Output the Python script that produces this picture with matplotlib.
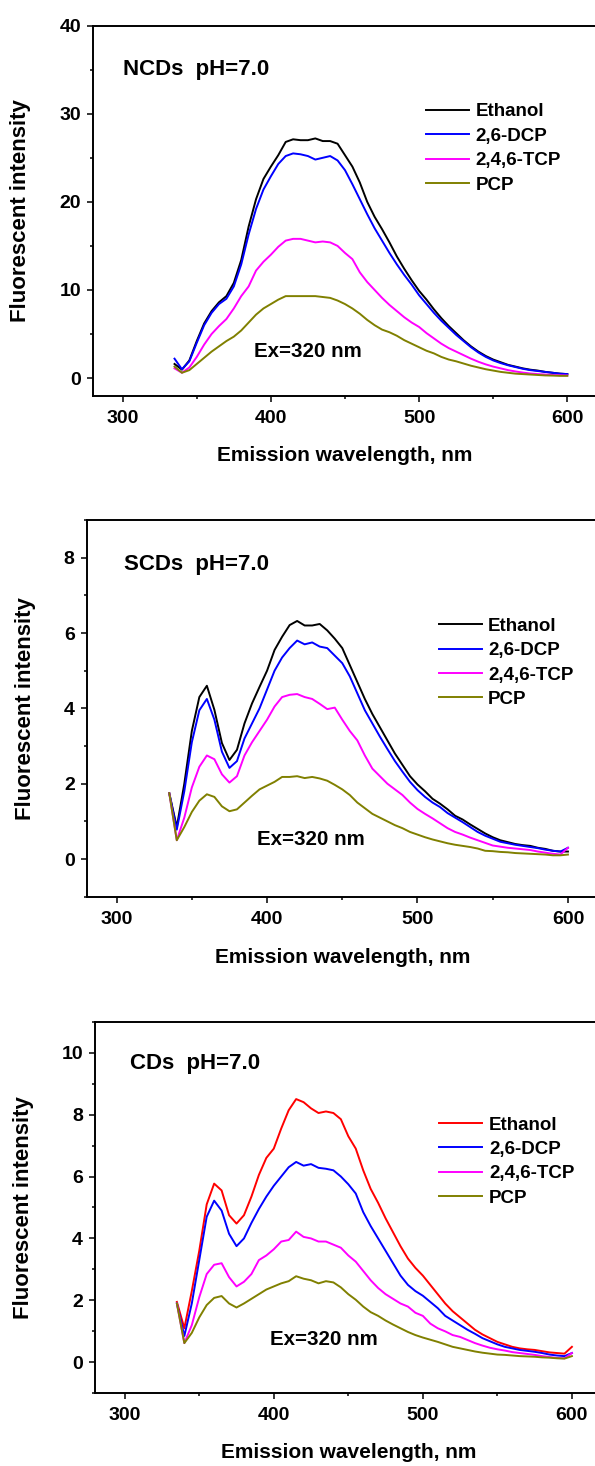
import numpy as np
import matplotlib
matplotlib.use("Agg")
import matplotlib.pyplot as plt
from matplotlib.ticker import MultipleLocator


# emission wavelength grid (nm), one reading every 5 nm
WAVELENGTH = np.arange(335, 601, 5)

LABELS = ["Ethanol", "2,6-DCP", "2,4,6-TCP", "PCP"]

# NCDs, pH 7.0
NCD_ETHANOL = [1.6, 0.95, 2.0, 4.2, 6.2, 7.6, 8.6, 9.3, 10.8, 13.4,
               17.2, 20.3, 22.6, 24.0, 25.3, 26.8, 27.1, 27.0, 27.0, 27.2,
               26.9, 26.9, 26.6, 25.3, 24.0, 22.2, 20.0, 18.3, 16.9, 15.4,
               13.8, 12.4, 11.1, 9.9, 8.9, 7.8, 6.8, 5.9, 5.1, 4.3,
               3.6, 3.0, 2.5, 2.1, 1.8, 1.5, 1.3, 1.1, 0.95, 0.85,
               0.7, 0.6, 0.5, 0.45]
NCD_DCP = [2.2, 1.0, 1.9, 4.0, 6.0, 7.4, 8.4, 9.0, 10.4, 12.9,
           16.3, 19.2, 21.4, 22.9, 24.3, 25.2, 25.5, 25.4, 25.2, 24.8,
           25.0, 25.2, 24.7, 23.6, 22.0, 20.3, 18.6, 17.0, 15.6, 14.2,
           12.9, 11.7, 10.6, 9.4, 8.4, 7.4, 6.5, 5.7, 4.9, 4.2,
           3.5, 2.9, 2.4, 2.0, 1.7, 1.45, 1.25, 1.05, 0.9, 0.8,
           0.7, 0.6, 0.5, 0.45]
NCD_TCP = [1.1, 0.6, 1.2, 2.4, 3.8, 5.0, 5.9, 6.7, 7.9, 9.3,
           10.4, 12.2, 13.2, 14.0, 14.9, 15.6, 15.8, 15.8, 15.6, 15.4,
           15.5, 15.4, 15.0, 14.2, 13.5, 12.0, 10.9, 10.0, 9.1, 8.3,
           7.6, 6.9, 6.3, 5.8, 5.1, 4.5, 3.9, 3.4, 3.0, 2.6,
           2.2, 1.85, 1.55, 1.3, 1.1, 0.9, 0.75, 0.62, 0.52, 0.45,
           0.4, 0.35, 0.32, 0.3]
NCD_PCP = [1.3, 0.6, 0.9, 1.6, 2.3, 3.0, 3.6, 4.2, 4.7, 5.4,
           6.3, 7.2, 7.9, 8.4, 8.9, 9.3, 9.3, 9.3, 9.3, 9.3,
           9.2, 9.1, 8.8, 8.4, 7.9, 7.3, 6.6, 6.0, 5.5, 5.2,
           4.8, 4.3, 3.9, 3.5, 3.1, 2.8, 2.4, 2.1, 1.9, 1.65,
           1.4, 1.2, 1.0, 0.85, 0.7, 0.6, 0.5, 0.45, 0.4, 0.35,
           0.3, 0.28, 0.25, 0.25]

# SCDs, pH 7.0
SCD_ETHANOL = [1.75, 0.85, 2.0, 3.4, 4.3, 4.6, 3.96, 3.08, 2.63, 2.9,
               3.6, 4.13, 4.57, 5.0, 5.55, 5.9, 6.21, 6.32, 6.2, 6.2,
               6.24, 6.07, 5.85, 5.6, 5.15, 4.7, 4.25, 3.85, 3.5, 3.15,
               2.8, 2.5, 2.2, 1.98, 1.8, 1.6, 1.47, 1.32, 1.15, 1.05,
               0.92, 0.8, 0.68, 0.58, 0.5, 0.45, 0.4, 0.37, 0.35, 0.3,
               0.27, 0.22, 0.2, 0.2]
SCD_DCP = [1.75, 0.78, 1.8, 3.1, 3.95, 4.25, 3.7, 2.85, 2.42, 2.6,
           3.2, 3.6, 4.0, 4.5, 5.0, 5.35, 5.6, 5.8, 5.7, 5.75,
           5.64, 5.6, 5.4, 5.2, 4.85, 4.4, 3.95, 3.6, 3.25, 2.92,
           2.6, 2.32, 2.05, 1.83, 1.65, 1.5, 1.38, 1.22, 1.1, 0.98,
           0.85, 0.72, 0.62, 0.54, 0.46, 0.42, 0.38, 0.35, 0.32, 0.29,
           0.25, 0.22, 0.2, 0.3]
SCD_TCP = [1.75, 0.5, 1.1, 1.9, 2.45, 2.75, 2.65, 2.25, 2.03, 2.2,
           2.75, 3.1, 3.4, 3.7, 4.05, 4.3, 4.36, 4.38, 4.3, 4.25,
           4.12, 3.98, 4.02, 3.7, 3.4, 3.15, 2.75, 2.4, 2.2, 2.0,
           1.85, 1.7, 1.5, 1.33, 1.2, 1.08, 0.95, 0.82, 0.72, 0.65,
           0.57, 0.5, 0.43, 0.36, 0.33, 0.3, 0.28, 0.26, 0.24, 0.2,
           0.17, 0.14, 0.12, 0.3]
SCD_PCP = [1.75, 0.5, 0.85, 1.25, 1.55, 1.72, 1.65, 1.4, 1.27, 1.32,
           1.5, 1.68, 1.85, 1.95, 2.05, 2.18, 2.18, 2.2, 2.15, 2.18,
           2.14, 2.08, 1.97, 1.85, 1.7, 1.5, 1.35, 1.2, 1.1, 1.0,
           0.9, 0.82, 0.72, 0.65, 0.58, 0.52, 0.47, 0.42, 0.38, 0.35,
           0.32, 0.28, 0.22, 0.21, 0.19, 0.18, 0.16, 0.15, 0.14, 0.13,
           0.12, 0.1, 0.1, 0.12]

# CDs, pH 7.0
CD_ETHANOL = [1.95, 1.1, 2.3, 3.6, 5.1, 5.77, 5.55, 4.75, 4.48, 4.75,
              5.35, 6.05, 6.6, 6.9, 7.55, 8.14, 8.5, 8.4, 8.2, 8.05,
              8.1, 8.05, 7.85, 7.3, 6.9, 6.2, 5.6, 5.15, 4.65, 4.2,
              3.75, 3.35, 3.05, 2.8, 2.5, 2.2, 1.9, 1.65, 1.45, 1.25,
              1.05, 0.9, 0.78, 0.66, 0.58, 0.5, 0.45, 0.42, 0.4, 0.36,
              0.32, 0.3, 0.28, 0.5]
CD_DCP = [1.9, 0.85, 1.9, 3.3, 4.7, 5.22, 4.9, 4.15, 3.75, 4.0,
          4.5, 4.95, 5.35, 5.7, 6.0, 6.3, 6.47, 6.35, 6.4, 6.28,
          6.25, 6.2, 6.0, 5.75, 5.45, 4.85, 4.4, 4.0, 3.6, 3.2,
          2.8, 2.5, 2.3, 2.15, 1.95, 1.75, 1.5, 1.35, 1.2, 1.05,
          0.92, 0.78, 0.68, 0.58, 0.5, 0.45, 0.4, 0.37, 0.34, 0.3,
          0.25, 0.22, 0.2, 0.3]
CD_TCP = [1.9, 0.62, 1.2, 2.1, 2.85, 3.15, 3.2, 2.75, 2.45, 2.6,
          2.85, 3.3, 3.45, 3.65, 3.9, 3.95, 4.22, 4.05, 4.0, 3.9,
          3.9, 3.8, 3.7, 3.45, 3.25, 2.95, 2.65, 2.4, 2.2, 2.05,
          1.9, 1.8, 1.6, 1.5, 1.25, 1.1, 1.0, 0.88, 0.82, 0.72,
          0.62, 0.54, 0.47, 0.42, 0.38, 0.33, 0.3, 0.27, 0.24, 0.2,
          0.17, 0.14, 0.13, 0.3]
CD_PCP = [1.9, 0.62, 0.95, 1.45, 1.85, 2.08, 2.14, 1.9, 1.77, 1.9,
          2.05, 2.2, 2.35, 2.45, 2.55, 2.62, 2.78, 2.7, 2.65, 2.55,
          2.62, 2.58, 2.42, 2.2, 2.02, 1.8, 1.62, 1.5, 1.35, 1.22,
          1.1, 0.98, 0.88, 0.8, 0.73, 0.66, 0.58, 0.5, 0.45, 0.4,
          0.35, 0.31, 0.28, 0.25, 0.24, 0.22, 0.2, 0.19, 0.18, 0.16,
          0.15, 0.13, 0.12, 0.2]

BLACK_SET = ["#000000", "#0000FF", "#FF00FF", "#808000"]
RED_SET = ["#FF0000", "#0000FF", "#FF00FF", "#808000"]

plt.rcParams["font.family"] = ["Liberation Sans", "DejaVu Sans"]
plt.rcParams["font.weight"] = "bold"


def draw_panel(ax, curves, colors, ylim, major, title, title_xy, ex_xy,
               legend_xy, ylabel_x):
    """Draw one set of emission spectra with its labels and legend.
    """
    for values, color, label in zip(curves, colors, LABELS):
        ax.plot(WAVELENGTH, values, color=color, lw=1.4, label=label)

    ax.set_xlim(280, 620)
    ax.set_ylim(*ylim)
    ax.xaxis.set_major_locator(MultipleLocator(100))
    ax.xaxis.set_minor_locator(MultipleLocator(50))
    ax.yaxis.set_major_locator(MultipleLocator(major))
    ax.yaxis.set_minor_locator(MultipleLocator(major / 2))

    for side in ax.spines.values():
        side.set_linewidth(1.4)
    ax.tick_params(which="major", direction="out", length=4.5, width=1.1,
                   labelsize=14)
    ax.tick_params(which="minor", direction="out", length=2.5, width=1.1)
    ax.tick_params(axis="x", which="major", pad=5.5)
    ax.tick_params(axis="y", which="major", pad=4)
    ax.tick_params(top=False, right=False, which="both")

    ax.set_xlabel("Emission wavelength, nm", fontsize=15, fontweight="bold")
    ax.set_ylabel("Fluorescent intensity", fontsize=16, fontweight="bold")
    ax.xaxis.set_label_coords(0.5, -0.135)
    ax.yaxis.set_label_coords(ylabel_x, 0.5)

    ax.text(title_xy[0], title_xy[1], title, fontsize=16,
            fontweight="bold", va="center", ha="left")
    ax.text(ex_xy[0], ex_xy[1], "Ex=320 nm", fontsize=14.8,
            fontweight="bold", va="center", ha="left")

    ax.legend(loc="upper left", bbox_to_anchor=legend_xy,
              bbox_transform=ax.transData, frameon=False,
              prop={"weight": "bold", "size": 13.5}, borderpad=0,
              borderaxespad=0, handlelength=2.3, handletextpad=0.35,
              labelspacing=0.39)


fig = plt.figure(figsize=(5.95, 14.66), dpi=100)

ax1 = fig.add_axes([0.1563, 0.7301, 0.847, 0.2524])
draw_panel(ax1, [NCD_ETHANOL, NCD_DCP, NCD_TCP, NCD_PCP], BLACK_SET,
           (-2, 40), 10, "NCDs  pH=7.0", (300, 35.0), (388.6, 3.0),
           (504.7, 31.2), -0.123)

ax2 = fig.add_axes([0.1454, 0.3883, 0.8597, 0.2570])
draw_panel(ax2, [SCD_ETHANOL, SCD_DCP, SCD_TCP, SCD_PCP], BLACK_SET,
           (-1, 9), 2, "SCDs  pH=7.0", (304.6, 7.83), (393.5, 0.52),
           (514, 6.41), -0.099)

ax3 = fig.add_axes([0.1595, 0.0496, 0.8518, 0.2535])
draw_panel(ax3, [CD_ETHANOL, CD_DCP, CD_TCP, CD_PCP], RED_SET,
           (-1, 11), 2, "CDs  pH=7.0", (303.8, 9.65), (397.7, 0.74),
           (511, 7.94), -0.12)

fig.savefig("out.png", dpi=100)
